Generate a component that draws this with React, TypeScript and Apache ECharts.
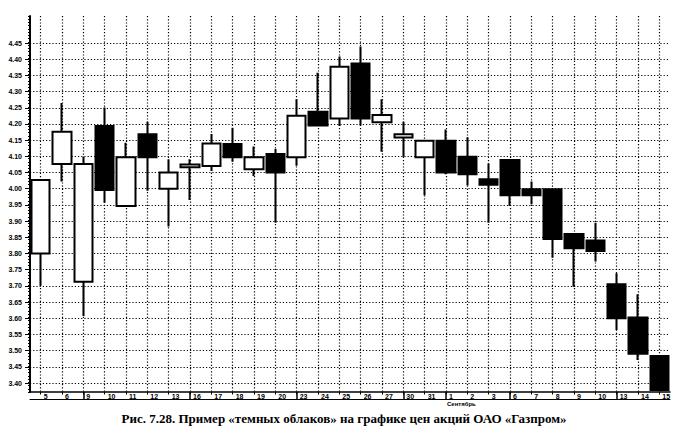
import React, { useEffect, useRef } from "react";
import * as echarts from "echarts";

// Trading days (August – September)
const dayLabels = ["5", "6", "9", "10", "11", "12", "13", "16", "17", "18", "19", "20", "23", "24", "25", "26", "27", "30", "31", "1", "2", "3", "6", "7", "8", "9", "10", "13", "14", "15"];
// indices where a new week / month starts (long separator ticks)
const weekStartIndices = [2, 7, 12, 17, 19, 22, 27];
const monthLabel = "Сентябрь";
const monthStartIndex = 19;

// OHLC values
const opens = [3.80, 4.076, 3.713, 4.194, 3.947, 4.168, 4.0, 4.066, 4.07, 4.138, 4.06, 4.107, 4.097, 4.238, 4.217, 4.387, 4.205, 4.158, 4.097, 4.148, 4.099, 4.029, 4.089, 3.998, 3.998, 3.86, 3.84, 3.705, 3.602, 3.483];
const closes = [4.027, 4.176, 4.076, 3.996, 4.097, 4.097, 4.05, 4.075, 4.14, 4.097, 4.097, 4.05, 4.225, 4.195, 4.377, 4.217, 4.228, 4.168, 4.148, 4.05, 4.045, 4.012, 3.98, 3.98, 3.845, 3.816, 3.808, 3.60, 3.49, 3.378];
const lows = [3.70, 4.022, 3.607, 3.957, 3.947, 3.994, 3.883, 3.965, 4.055, 4.083, 4.039, 3.895, 4.071, 4.195, 4.194, 4.195, 4.114, 4.099, 3.98, 4.045, 4.01, 3.895, 3.947, 3.952, 3.787, 3.697, 3.775, 3.564, 3.471, 3.378];
const highs = [4.027, 4.265, 4.099, 4.251, 4.142, 4.207, 4.091, 4.091, 4.169, 4.188, 4.13, 4.123, 4.276, 4.358, 4.408, 4.439, 4.276, 4.207, 4.148, 4.183, 4.159, 4.078, 4.089, 4.022, 3.998, 3.86, 3.895, 3.739, 3.674, 3.483];

// Price axis
const priceMin = 3.4;
const priceMax = 4.45;
const priceStep = 0.05;

const caption = "Рис. 7.28. Пример «темных облаков» на графике цен акций ОАО «Газпром»";

export default function App() {
  const ref = useRef<HTMLDivElement>(null);

  useEffect(() => {
    if (!ref.current) return;
    const chart = echarts.init(ref.current, undefined, { renderer: "svg" });

    const ohlc = dayLabels.map((_, i) => [opens[i], closes[i], lows[i], highs[i]]);
    const dotted = { color: "#000", width: 1.2, type: [1.2, 2] as number[] };
    const smallFont = { fontFamily: "Liberation Sans", fontWeight: "bold" as const, color: "#000" };

    const captionText = {
      type: "text",
      id: "caption",
      x: 344,
      y: 418,
      style: {
        text: caption,
        align: "center",
        verticalAlign: "middle",
        font: 'bold 13px "Liberation Serif"',
        fill: "#000",
      },
    };

    const option: any = {
      animation: false,
      backgroundColor: "#fff",
      grid: [
        { left: 30, right: 7, top: 43, bottom: 50 },
        { left: 40.67, right: 17.67, top: 16, bottom: 41 },
      ],
      xAxis: [
        {
          type: "category",
          gridIndex: 0,
          data: dayLabels,
          position: "bottom",
          offset: 9,
          boundaryGap: true,
          axisLine: { show: true, lineStyle: { color: "#000", width: 1.5 } },
          axisTick: {
            show: true,
            alignWithLabel: true,
            length: 7,
            interval: (i: number) => weekStartIndices.includes(i),
            lineStyle: { color: "#000", width: 1.5 },
          },
          axisLabel: {
            show: true,
            interval: 0,
            align: "left",
            margin: 1,
            fontSize: 7,
            padding: [0, 0, 0, 3],
            ...smallFont,
          },
          splitLine: { show: false },
        },
        {
          type: "category",
          gridIndex: 0,
          data: dayLabels,
          position: "bottom",
          offset: 9,
          axisLine: { show: false },
          axisTick: { show: true, alignWithLabel: true, length: 2.5, interval: 0, lineStyle: { color: "#000", width: 1 } },
          axisLabel: { show: false },
          splitLine: { show: false },
        },
        {
          type: "category",
          gridIndex: 0,
          data: dayLabels,
          position: "bottom",
          offset: 16,
          axisLine: { show: true, lineStyle: { color: "#000", width: 1 } },
          axisTick: { show: false },
          axisLabel: { show: false },
          splitLine: { show: false },
        },
        {
          type: "category",
          gridIndex: 1,
          data: dayLabels,
          boundaryGap: false,
          axisLine: { show: false },
          axisTick: { show: false },
          axisLabel: { show: false },
          splitLine: { show: true, interval: 0, lineStyle: dotted },
        },
      ],
      yAxis: [
        {
          type: "value",
          gridIndex: 0,
          min: priceMin,
          max: priceMax,
          interval: priceStep,
          axisLine: { show: false },
          axisTick: { show: true, length: 5, lineStyle: { color: "#000", width: 1 } },
          axisLabel: { formatter: (v: number) => v.toFixed(2), fontSize: 7, margin: 8, ...smallFont },
          splitLine: { show: true, lineStyle: dotted },
        },
        {
          type: "value",
          gridIndex: 1,
          min: 0,
          max: 116,
          interval: 1,
          offset: 10.67,
          axisLine: { show: true, lineStyle: { color: "#000", width: 2 } },
          axisTick: { show: true, length: 2, lineStyle: { color: "#000", width: 1 } },
          axisLabel: { show: false },
          splitLine: { show: false },
        },
      ],
      series: [
        {
          type: "candlestick",
          xAxisIndex: 0,
          yAxisIndex: 0,
          data: ohlc,
          barWidth: 19,
          clip: false,
          itemStyle: {
            color: "#fff",
            color0: "#000",
            borderColor: "#000",
            borderColor0: "#000",
            borderWidth: 2,
          },
        },
      ],
      graphic: [captionText],
    };

    chart.setOption(option);

    // month name under the first September day, placed with the axis scale
    const monthX = chart.convertToPixel({ xAxisIndex: 0 }, monthStartIndex) as number;
    const axisBottomY = chart.convertToPixel({ yAxisIndex: 0 }, priceMin) as number;
    chart.setOption({
      graphic: [
        captionText,
        {
          type: "text",
          id: "month",
          x: monthX + 1,
          y: axisBottomY + 18,
          style: {
            text: monthLabel,
            align: "left",
            verticalAlign: "top",
            font: 'bold 6px "Liberation Sans"',
            fill: "#000",
          },
        },
      ],
    });

    return () => chart.dispose();
  }, []);

  return <div ref={ref} style={{ position: "absolute", left: 0, top: 0, width: 677, height: 433 }} />;
}
